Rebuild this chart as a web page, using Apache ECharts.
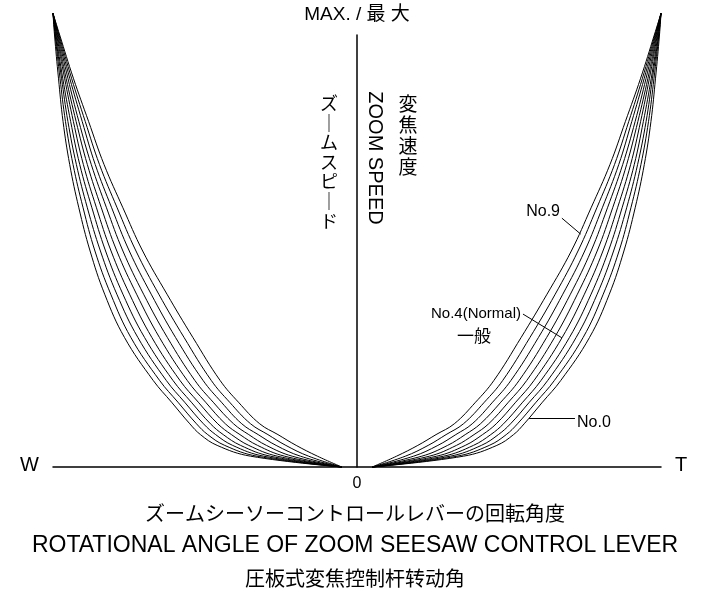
<!DOCTYPE html>
<html>
<head>
<meta charset="utf-8">
<script src="https://cdn.jsdelivr.net/npm/echarts@6/dist/echarts.min.js"></script>
<style>
  html, body { margin: 0; padding: 0; background: #fff; }
  #chart { width: 709px; height: 600px; }
</style>
</head>
<body>
<div id="chart"></div>
<script>
// speed levels (0 = stop, 100 = MAX.), curves run slightly above the axis top
var speedLevels = [0, 2.5, 5, 7.5, 10, 15, 20, 30, 40, 50, 60, 70, 80, 90, 100, 105];

// lever angle (T side, % of full throw) reached at each speed level, per curve
var curveNames = ["No.0", "No.1", "No.2", "No.3", "No.4", "No.5", "No.6", "No.7", "No.8", "No.9"];
var curveAngles = [
  [5, 35, 46, 51.5, 55, 61, 67, 76.5, 83, 87.8, 91.5, 94.5, 96.7, 98.2, 99.5, 100],
  [5, 32.9, 43.5, 49.1, 52.8, 58.9, 64.9, 74.4, 81, 86.2, 90.1, 93.4, 95.9, 97.7, 99.3, 100],
  [5, 30.7, 40.9, 46.5, 50.5, 56.7, 62.7, 72.1, 79, 84.4, 88.7, 92.3, 95.1, 97.2, 99.2, 100],
  [5, 28.5, 38.3, 44, 48.2, 54.5, 60.5, 69.9, 77, 82.7, 87.2, 91.2, 94.2, 96.8, 99, 100],
  [5, 26.2, 35.6, 41.3, 45.8, 52.2, 58.2, 67.5, 74.8, 80.9, 85.7, 90, 93.3, 96.2, 98.8, 100],
  [5, 23.8, 32.7, 38.5, 43.3, 49.8, 55.8, 65, 72.5, 79, 84.1, 88.7, 92.4, 95.7, 98.6, 100],
  [5, 21.3, 29.8, 35.6, 40.6, 47.3, 53.3, 62.4, 70.2, 77, 82.4, 87.4, 91.5, 95.1, 98.4, 100],
  [5, 18.6, 26.6, 32.5, 37.9, 44.6, 50.6, 59.7, 67.7, 74.9, 80.7, 86.1, 90.4, 94.5, 98.2, 100],
  [5, 15.9, 23.4, 29.3, 35, 41.9, 47.9, 56.9, 65.2, 72.7, 78.9, 84.7, 89.4, 93.9, 98, 100],
  [5, 13, 20, 26, 32, 39, 45, 54, 62.5, 70.5, 77, 83.2, 88.3, 93.3, 97.8, 100]
];

// leader lines for the curve labels: [curve index, point on curve, label end]
var leaders = [
  [9, [73.6, 53.9], [67.4, 57.6]],
  [4, [67.4, 29.9], [54.6, 35.4]],
  [0, [56.6, 11.3], [71.7, 11.3]]
];

var FONT = "'Liberation Sans', 'Noto Sans CJK JP', sans-serif";
var JP = "'Noto Sans CJK JP', 'Liberation Sans', sans-serif";

var chart = echarts.init(document.getElementById("chart"));

var series = [];
curveAngles.forEach(function (angles, k) {
  var right = angles.map(function (a, i) { return [a, speedLevels[i]]; });
  var left = angles.map(function (a, i) { return [-a, speedLevels[i]]; });
  var mk = leaders.filter(function (l) { return l[0] === k; }).map(function (l) {
    return [{ coord: l[1] }, { coord: l[2] }];
  });
  series.push({
    name: curveNames[k] + " T",
    type: "line",
    data: right,
    smooth: 0.4,
    symbol: "none",
    clip: false,
    lineStyle: { color: "#000", width: 1 },
    markLine: mk.length ? {
      silent: true,
      symbol: "none",
      label: { show: false },
      lineStyle: { color: "#000", width: 1, type: "solid" },
      data: mk
    } : undefined
  });
  series.push({
    name: curveNames[k] + " W",
    type: "line",
    data: left,
    smooth: 0.4,
    symbol: "none",
    clip: false,
    lineStyle: { color: "#000", width: 1 }
  });
});

var option = {
  animation: false,
  backgroundColor: "#fff",
  grid: { left: 53, right: 48, top: 35, bottom: 133 },
  xAxis: {
    type: "value",
    min: -100,
    max: 100,
    interval: 100,
    axisLine: { onZero: true, lineStyle: { color: "#000", width: 1.5 } },
    axisTick: { show: false },
    splitLine: { show: false },
    axisLabel: {
      color: "#000",
      fontSize: 16,
      fontFamily: FONT,
      margin: 9,
      formatter: function (v) { return v === 0 ? "0" : ""; }
    }
  },
  yAxis: {
    type: "value",
    min: 0,
    max: 100,
    name: "MAX. / 最 大",
    nameLocation: "end",
    nameGap: 11,
    nameTextStyle: { color: "#000", fontSize: 19, fontFamily: FONT, align: "center" },
    axisLine: { show: true, onZero: true, lineStyle: { color: "#000", width: 1.5 } },
    axisTick: { show: false },
    axisLabel: { show: false },
    splitLine: { show: false }
  },
  series: series,
  graphic: [
    { type: "text", left: 20, top: 455, style: { text: "W", font: "20px " + FONT, fill: "#000" } },
    { type: "text", left: 675, top: 455, style: { text: "T", font: "20px " + FONT, fill: "#000" } },
    { type: "text", x: 329, y: 162, style: { text: "ズ\n｜\nム\nス\nピ\n｜\nド", font: "18px " + JP, fill: "#000", align: "center", verticalAlign: "middle", lineHeight: 19.6 } },
    { type: "text", x: 375, y: 158, rotation: -Math.PI / 2, style: { text: "ZOOM SPEED", font: "20px " + FONT, fill: "#000", align: "center", verticalAlign: "middle" } },
    { type: "text", x: 408, y: 135, style: { text: "変\n焦\n速\n度", font: "19px " + JP, fill: "#000", align: "center", verticalAlign: "middle", lineHeight: 21 } },
    { type: "text", x: 560, y: 212, style: { text: "No.9", font: "16px " + FONT, fill: "#000", align: "right", verticalAlign: "middle" } },
    { type: "text", x: 521, y: 314, style: { text: "No.4(Normal)", font: "15px " + FONT, fill: "#000", align: "right", verticalAlign: "middle" } },
    { type: "text", x: 474, y: 336, style: { text: "一般", font: "17px " + JP, fill: "#000", align: "center", verticalAlign: "middle" } },
    { type: "text", x: 577, y: 423, style: { text: "No.0", font: "16px " + FONT, fill: "#000", align: "left", verticalAlign: "middle" } },
    { type: "text", x: 355, y: 513, style: { text: "ズームシーソーコントロールレバーの回転角度", font: "20px " + JP, fill: "#000", align: "center", verticalAlign: "middle" } },
    { type: "text", x: 355, y: 546, style: { text: "ROTATIONAL ANGLE OF ZOOM SEESAW CONTROL LEVER", font: "23px " + FONT, fill: "#000", align: "center", verticalAlign: "middle" } },
    { type: "text", x: 355, y: 578, style: { text: "圧板式変焦控制杆转动角", font: "20px " + JP, fill: "#000", align: "center", verticalAlign: "middle" } }
  ]
};

chart.setOption(option);
</script>
</body>
</html>
